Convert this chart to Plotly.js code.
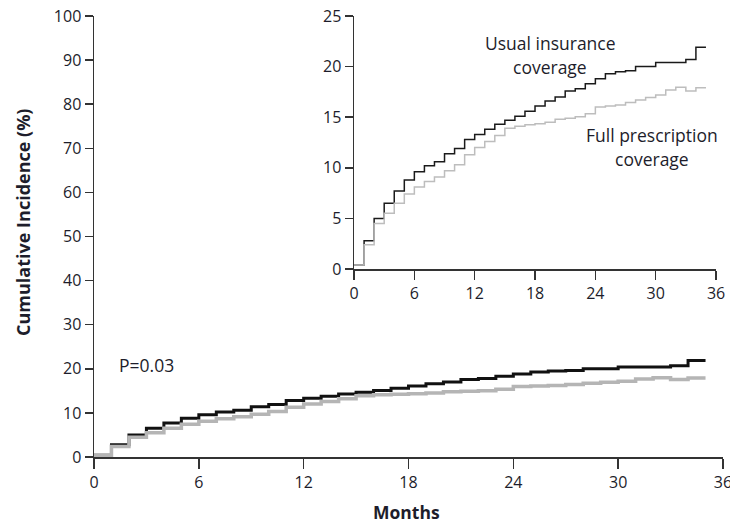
<!DOCTYPE html>
<html>
<head>
<meta charset="utf-8">
<script src="https://cdn.plot.ly/plotly-3.0.1.min.js"></script>
<style>html,body{margin:0;padding:0;background:#fff;overflow:hidden;}</style>
</head>
<body>
<div id="chart" style="width:730px;height:525px;"></div>
<script>
// Months at which each step level begins
const months = [0,1,2,3,4,5,6,7,8,9,10,11,12,13,14,15,16,17,18,19,20,21,22,23,24,25,26,27,28,29,30,31,32,33,34,35];
// Usual insurance coverage (cumulative incidence, %)
const usualCoverage = [0.4,2.8,5.0,6.5,7.7,8.8,9.6,10.2,10.6,11.4,11.9,12.8,13.3,13.8,14.3,14.7,15.1,15.6,16.1,16.6,17.0,17.6,17.8,18.3,18.8,19.3,19.5,19.6,20.0,20.0,20.4,20.4,20.4,20.7,21.9,21.9];
// Full prescription coverage (cumulative incidence, %)
const fullCoverage = [0.4,2.4,4.5,5.5,6.5,7.4,8.1,8.65,9.1,9.7,10.3,11.3,12.0,12.6,13.2,13.9,14.1,14.25,14.35,14.5,14.8,14.9,15.05,15.35,16.0,16.1,16.2,16.45,16.7,16.95,17.2,17.7,17.95,17.6,17.9,17.9];
const mainYTicks = [0,10,20,30,40,50,60,70,80,90,100];
const insetYTicks = [0,5,10,15,20,25];
const xTicks = [0,6,12,18,24,30,36];

const FONT = 'Open Sans, Noto Sans, sans-serif';
const TXT = '#1d1d2b';
const AX = '#333333';

const traces = [
  {x: months, y: usualCoverage, xaxis:'x', yaxis:'y', mode:'lines', line:{shape:'hv', color:'#111111', width:3}, hoverinfo:'skip'},
  {x: months, y: fullCoverage, xaxis:'x', yaxis:'y', mode:'lines', line:{shape:'hv', color:'#b5b5b5', width:3.5}, hoverinfo:'skip'},
  {x: months, y: usualCoverage, xaxis:'x2', yaxis:'y2', mode:'lines', line:{shape:'hv', color:'#1a1a1a', width:1.5}, hoverinfo:'skip'},
  {x: months, y: fullCoverage, xaxis:'x2', yaxis:'y2', mode:'lines', line:{shape:'hv', color:'#bdbdbd', width:1.5}, hoverinfo:'skip'}
];

function axisStyle(extra){
  return Object.assign({
    showgrid:false, zeroline:false, showline:true, linecolor:AX, linewidth:1.5,
    ticks:'outside', tickcolor:AX, tickwidth:1.5, ticklen:8,
    tickfont:{family:FONT, size:16, color:TXT}, fixedrange:true,
    ticklabeloverflow:'allow'
  }, extra);
}

const annFont = {family:FONT, size:17.5, color:TXT};

const layout = {
  width:730, height:525,
  margin:{l:94, r:7, t:16, b:68},
  paper_bgcolor:'#ffffff', plot_bgcolor:'rgba(0,0,0,0)',
  showlegend:false,
  xaxis: axisStyle({domain:[0,1], anchor:'y', range:[0,36], tickmode:'array', tickvals:xTicks, ticklen:10}),
  yaxis: axisStyle({domain:[0,1], anchor:'x', range:[0,100], tickmode:'array', tickvals:mainYTicks}),
  xaxis2: axisStyle({domain:[0.4134,0.9889], anchor:'y2', range:[0,36], tickmode:'array', tickvals:xTicks, ticklen:9}),
  yaxis2: axisStyle({domain:[0.4263,1], anchor:'x2', range:[0,25], tickmode:'array', tickvals:insetYTicks}),
  annotations:[
    {xref:'paper', yref:'paper', x:-0.1129, y:0.533, text:'Cumulative Incidence (%)', textangle:-90, showarrow:false,
     xanchor:'center', yanchor:'middle', font:{family:FONT, size:18, color:TXT, weight:'bold'}},
    {xref:'paper', yref:'paper', x:0.4976, y:-0.1247, text:'Months', showarrow:false,
     xanchor:'center', yanchor:'middle', font:{family:FONT, size:17.5, color:TXT, weight:'bold'}},
    {xref:'x', yref:'y', x:1.32, y:20.9, text:'P=0.03', showarrow:false, xanchor:'left', yanchor:'middle', font:annFont},
    {xref:'x2', yref:'y2', x:19.5, y:22.33, text:'Usual insurance', showarrow:false, xanchor:'center', yanchor:'middle', font:annFont},
    {xref:'x2', yref:'y2', x:19.5, y:19.96, text:'coverage', showarrow:false, xanchor:'center', yanchor:'middle', font:annFont},
    {xref:'x2', yref:'y2', x:29.65, y:13.24, text:'Full prescription', showarrow:false, xanchor:'center', yanchor:'middle', font:annFont},
    {xref:'x2', yref:'y2', x:29.65, y:10.87, text:'coverage', showarrow:false, xanchor:'center', yanchor:'middle', font:annFont}
  ]
};

Plotly.newPlot('chart', traces, layout, {staticPlot:true, displayModeBar:false});
</script>
</body>
</html>
